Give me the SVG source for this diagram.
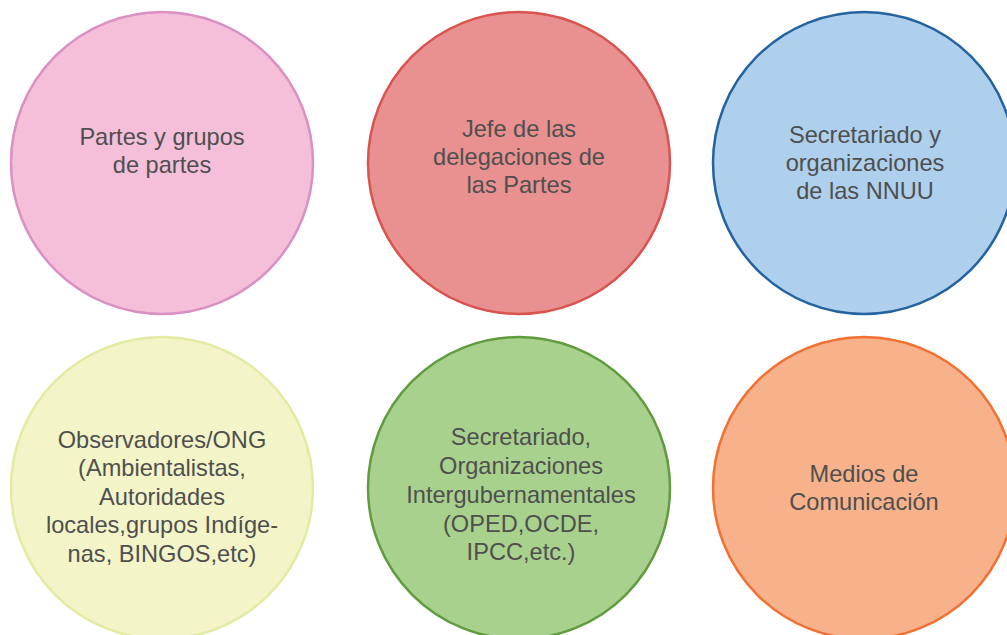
<svg xmlns="http://www.w3.org/2000/svg" width="1007" height="635" viewBox="0 0 1007 635">
<style>
.c{stroke-width:2.5}
.t{font-family:"Liberation Sans",Arial,sans-serif;font-size:23.6px;fill:#4f4f4f;text-anchor:middle}
</style>
<rect width="1007" height="635" fill="#ffffff"/>
<g id="node1">
<circle class="c" cx="162" cy="163" r="151" fill="#F5BFD9" stroke="#D990C2"/>
<text class="t" x="162" y="145">Partes y grupos</text>
<text class="t" x="162" y="173">de partes</text>
</g>
<g id="node2">
<circle class="c" cx="519" cy="163" r="151" fill="#E99190" stroke="#D9534F"/>
<text class="t" x="519" y="137">Jefe de las</text>
<text class="t" x="519" y="165">delegaciones de</text>
<text class="t" x="519" y="193">las Partes</text>
</g>
<g id="node3">
<circle class="c" cx="864" cy="163" r="151" fill="#AED0EC" stroke="#2462A0"/>
<text class="t" x="865" y="143">Secretariado y</text>
<text class="t" x="865" y="171">organizaciones</text>
<text class="t" x="865" y="199">de las NNUU</text>
</g>
<g id="node4">
<circle class="c" cx="162" cy="488" r="151" fill="#F3F5C9" stroke="#E3EBA2"/>
<text class="t" x="162" y="448">Observadores/ONG</text>
<text class="t" x="162" y="476">(Ambientalistas,</text>
<text class="t" x="162" y="505">Autoridades</text>
<text class="t" x="162" y="533">locales,grupos Indíge-</text>
<text class="t" x="162" y="562">nas, BINGOS,etc)</text>
</g>
<g id="node5">
<circle class="c" cx="519" cy="488" r="151" fill="#A9D18E" stroke="#609B40"/>
<text class="t" x="521" y="445">Secretariado,</text>
<text class="t" x="521" y="474">Organizaciones</text>
<text class="t" x="521" y="503">Intergubernamentales</text>
<text class="t" x="521" y="532">(OPED,OCDE,</text>
<text class="t" x="521" y="560">IPCC,etc.)</text>
</g>
<g id="node6">
<circle class="c" cx="864" cy="488" r="151" fill="#F7B28B" stroke="#F07131"/>
<text class="t" x="864" y="482">Medios de</text>
<text class="t" x="864" y="510">Comunicación</text>
</g>
<g id="connectors"></g>
</svg>
